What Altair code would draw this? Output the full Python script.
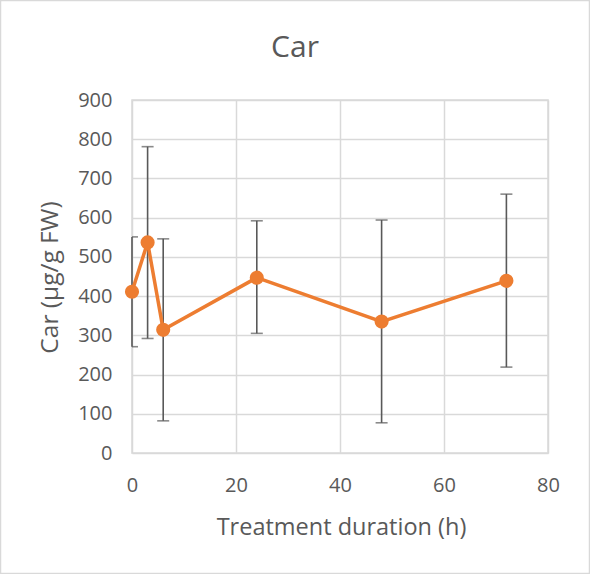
import altair as alt
import pandas as pd

# Car content over treatment time, with error bar bounds
hours = [0, 3, 6, 24, 48, 72]
car_mean = [411, 537, 314, 447, 335, 439]
car_low = [271, 292, 82, 305, 77, 219]
car_high = [551, 781, 546, 592, 594, 660]

x_ticks = [0, 20, 40, 60, 80]
y_ticks = [0, 100, 200, 300, 400, 500, 600, 700, 800, 900]

df = pd.DataFrame({"h": hours, "car": car_mean, "lo": car_low, "hi": car_high})

FONT = "Open Sans"
TEXT = "#595959"
GRID = "#d9d9d9"
ORANGE = "#ed7d31"
BAR = "#595959"

x_scale = alt.Scale(domain=[0, 80], nice=False, zero=False)
y_scale = alt.Scale(domain=[0, 900], nice=False)

x_axis = alt.Axis(values=x_ticks, title="Treatment duration (h)", grid=True,
                  gridColor=GRID, domain=False, ticks=False, labelPadding=22,
                  labelFlush=False, labelOverlap=False, titleFontSize=23.5,
                  titleX=209, titleY=81, titleBaseline="alphabetic")
y_axis = alt.Axis(values=y_ticks, title="Car (µg/g FW)", grid=True,
                  gridColor=GRID, domain=False, ticks=False, labelPadding=20,
                  labelFlush=False, labelOverlap=False, titleFontSize=24.5,
                  titleAngle=-90, titleX=-82, titleY=177,
                  titleAlign="center", titleBaseline="middle")


def xenc(field="h"):
    return alt.X(f"{field}:Q", scale=x_scale, axis=x_axis)


def yenc(field):
    return alt.Y(f"{field}:Q", scale=y_scale, axis=y_axis)


base = alt.Chart(df)

bars = base.mark_rule(color=BAR, strokeWidth=1.6).encode(
    x=xenc(), y=yenc("lo"), y2="hi:Q")

caps_lo = base.mark_tick(color=BAR, orient="horizontal", size=12,
                         thickness=1.6, clip=True).encode(x=xenc(), y=yenc("lo"))
caps_hi = base.mark_tick(color=BAR, orient="horizontal", size=12,
                         thickness=1.6, clip=True).encode(x=xenc(), y=yenc("hi"))

line = base.mark_line(color=ORANGE, strokeWidth=3.5).encode(
    x=xenc(), y=yenc("car"))
points = base.mark_circle(color=ORANGE, size=200, opacity=1).encode(
    x=xenc(), y=yenc("car"))

single = alt.Data(values=[{}])

# chart title, centred on the whole figure
title = alt.Chart(single).mark_text(
    text="Car", font=FONT, fontSize=30, color=TEXT, align="center",
    baseline="alphabetic").encode(x=alt.value(163), y=alt.value(-43))

# thin frame around the whole chart
frame = alt.Chart(single).mark_rect(
    fill=None, stroke=GRID, strokeWidth=1.5).encode(
    x=alt.value(-131.5), x2=alt.value(457.5),
    y=alt.value(-99.5), y2=alt.value(473.5))

chart = alt.layer(bars, caps_lo, caps_hi, line, points, title, frame).properties(
    width=416, height=353,
    padding={"left": 132, "top": 100, "right": 42, "bottom": 121},
    autosize=alt.AutoSizeParams(type="none"),
    background="white",
).configure_view(stroke=GRID, strokeWidth=1.5).configure_axis(
    labelFont=FONT, labelFontSize=20, labelColor=TEXT,
    titleFont=FONT, titleFontWeight="normal", titleColor=TEXT,
    gridWidth=1.5,
)

chart.save("out.html", embed_options={"renderer": "svg", "actions": False})
